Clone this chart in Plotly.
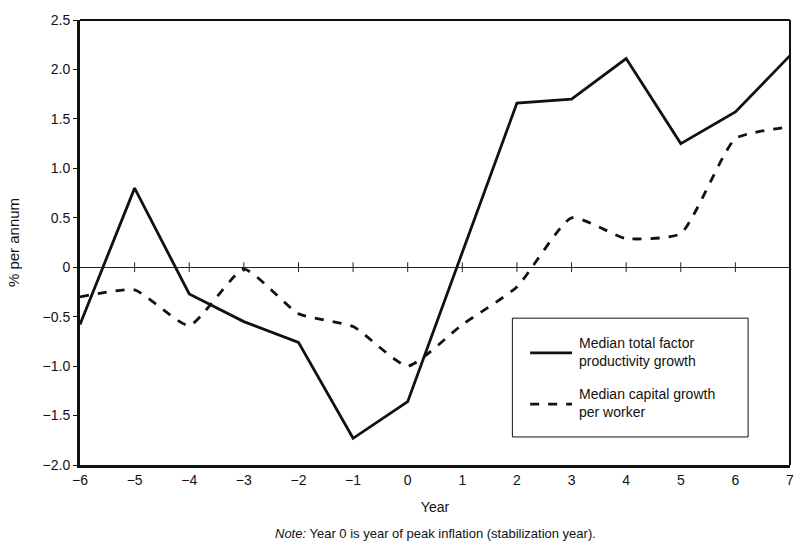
import plotly.graph_objects as go

years = [-6, -5, -4, -3, -2, -1, 0, 1, 2, 3, 4, 5, 6, 7]
tfp_growth = [-0.58, 0.80, -0.27, -0.55, -0.76, -1.73, -1.36, 0.15, 1.66, 1.70, 2.11, 1.25, 1.57, 2.14]
capital_growth = [-0.30, -0.23, -0.59, -0.02, -0.47, -0.60, -1.00, -0.58, -0.20, 0.50, 0.29, 0.34, 1.30, 1.42]
y_ticks = [2.5, 2.0, 1.5, 1.0, 0.5, 0, -0.5, -1.0, -1.5, -2.0]
y_tick_labels = ["2.5", "2.0", "1.5", "1.0", "0.5", "0", "\u22120.5", "\u22121.0", "\u22121.5", "\u22122.0"]
x_tick_labels = ["\u22126", "\u22125", "\u22124", "\u22123", "\u22122", "\u22121", "0", "1", "2", "3", "4", "5", "6", "7"]
legend_labels = ["Median total factor<br>productivity growth", "Median capital growth<br>per worker"]

FONT = "Liberation Sans, Arial, Helvetica, sans-serif"
INK = "#111"

fig = go.Figure()

# tick marks along the zero line
fig.add_trace(go.Scatter(
    x=years[1:-1], y=[0] * (len(years) - 2), mode="markers",
    marker=dict(symbol="line-ns-open", size=7, color="#222", line=dict(color="#222", width=1)),
    showlegend=False, hoverinfo="skip", cliponaxis=False))

fig.add_trace(go.Scatter(
    x=years, y=tfp_growth, mode="lines", name=legend_labels[0],
    line=dict(color=INK, width=2.8), showlegend=False, cliponaxis=False))

fig.add_trace(go.Scatter(
    x=years, y=capital_growth, mode="lines", name=legend_labels[1],
    line=dict(color=INK, width=2.8, dash="dash", shape="spline", smoothing=0.5),
    showlegend=False, cliponaxis=False))

# manual legend box (paper coordinates)
bx0, bx1, by0, by1 = 0.609, 0.941, 0.063, 0.330
shapes = [
    dict(type="rect", xref="paper", yref="paper", x0=bx0, x1=bx1, y0=by0, y1=by1,
         line=dict(color=INK, width=1), fillcolor="white", layer="above"),
    dict(type="line", xref="paper", yref="paper", x0=0.634, x1=0.693, y0=0.252, y1=0.252,
         line=dict(color=INK, width=2.8), layer="above"),
    dict(type="line", xref="paper", yref="paper", x0=0.634, x1=0.693, y0=0.137, y1=0.137,
         line=dict(color=INK, width=2.8, dash="dash"), layer="above"),
    # top and right frame
    dict(type="line", xref="paper", yref="paper", x0=0, x1=1, y0=1, y1=1,
         line=dict(color=INK, width=2), layer="above"),
    dict(type="line", xref="paper", yref="paper", x0=1, x1=1, y0=0, y1=1,
         line=dict(color=INK, width=2), layer="above"),
]

annotations = [
    dict(text=legend_labels[0], xref="paper", yref="paper", x=0.700, y=0.254,
         xanchor="left", yanchor="middle", align="left", showarrow=False,
         font=dict(family=FONT, size=14, color=INK)),
    dict(text=legend_labels[1], xref="paper", yref="paper", x=0.700, y=0.139,
         xanchor="left", yanchor="middle", align="left", showarrow=False,
         font=dict(family=FONT, size=14, color=INK)),
    dict(text="<i>Note:</i> Year 0 is year of peak inflation (stabilization year).",
         xref="paper", yref="paper", x=0.5, y=-0.153, yanchor="middle",
         xanchor="center", showarrow=False,
         font=dict(family=FONT, size=13, color=INK)),
]

fig.update_layout(
    width=795, height=543,
    margin=dict(l=80, r=5, t=20, b=78, autoexpand=False),
    paper_bgcolor="white", plot_bgcolor="white",
    font=dict(family=FONT, size=14, color=INK),
    showlegend=False,
    xaxis=dict(
        range=[-6, 7], tickmode="array", tickvals=years, ticktext=x_tick_labels,
        showgrid=False, zeroline=False, showline=True, linecolor=INK, linewidth=3,
        ticks="", tickfont=dict(size=14), automargin=False, ticklabeloverflow="allow",
        title=dict(text="Year", font=dict(size=14), standoff=16),
    ),
    yaxis=dict(
        range=[-2.0, 2.5], tickmode="array", tickvals=y_ticks, ticktext=y_tick_labels,
        showgrid=False, zeroline=True, zerolinecolor="#222", zerolinewidth=1,
        showline=True, linecolor=INK, linewidth=3, ticks="outside", ticklen=4,
        tickcolor=INK, tickfont=dict(size=14), automargin=False,
        title=dict(text="% per annum", font=dict(size=15), standoff=20),
    ),
    shapes=shapes,
    annotations=annotations,
)

fig.write_html(
    "out.html",
    config=dict(displayModeBar=False, staticPlot=True),
    post_script="document.body.style.margin='0';document.body.style.overflow='hidden';",
)
